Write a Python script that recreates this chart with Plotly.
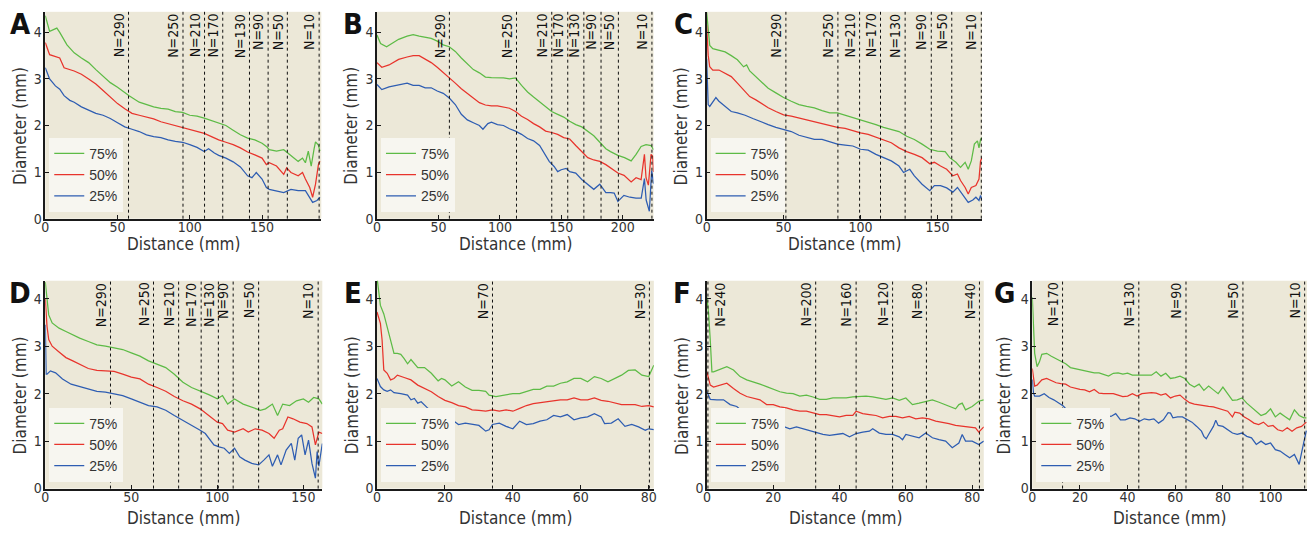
import plotly.graph_objects as go

W, H = 1316, 534

# ---------------- data ----------------
A_75_x = [0,3,8,10,15,20,25,30,35,40,45,50,55,58,65,70,75,80,85,90,95,100,105,110,115,120,125,130,135,140,145,150,153,155,160,165,168,172,175,178,180,182,184,186,187,189,190]
A_75_y = [4.36,4.02,4.09,4.0,3.73,3.56,3.45,3.35,3.2,3.07,2.92,2.82,2.7,2.64,2.5,2.45,2.4,2.37,2.35,2.3,2.28,2.22,2.2,2.16,2.11,2.06,2.0,1.9,1.8,1.73,1.69,1.62,1.55,1.48,1.45,1.48,1.41,1.3,1.23,1.3,1.2,1.45,1.13,1.5,1.65,1.58,1.45]
A_50_x = [0,3,10,13,20,25,30,35,40,45,50,55,60,65,70,75,80,85,90,95,100,105,110,115,120,125,130,135,140,145,150,153,155,160,165,167,170,175,178,180,183,185,187,189,190]
A_50_y = [3.78,3.52,3.45,3.24,3.17,3.1,3.0,2.89,2.75,2.61,2.47,2.36,2.26,2.22,2.18,2.14,2.08,2.04,1.99,1.95,1.92,1.88,1.83,1.76,1.69,1.64,1.59,1.52,1.43,1.37,1.3,1.16,1.2,1.13,0.95,1.09,0.99,0.92,0.99,0.85,0.67,0.46,0.74,1.16,1.23]
A_25_x = [0,3,7,10,13,17,20,25,30,35,40,45,50,55,60,65,70,75,80,85,90,95,100,105,110,113,117,120,125,130,135,140,143,146,150,153,155,160,165,170,175,180,183,185,188,190]
A_25_y = [3.24,3.0,2.85,2.78,2.64,2.54,2.5,2.4,2.33,2.26,2.22,2.15,2.06,1.97,1.92,1.87,1.8,1.76,1.74,1.69,1.66,1.64,1.59,1.53,1.44,1.5,1.41,1.36,1.3,1.22,1.11,0.92,0.88,0.99,0.85,0.67,0.63,0.6,0.56,0.63,0.6,0.6,0.46,0.35,0.39,0.46]
A_N_pos = [57.6,95.3,110.2,122.8,141.3,154.2,167.5,189.5]
A_N_lab = ["N=290","N=250","N=210","N=170","N=130","N=90","N=50","N=10"]

B_75_x = [0,2.9,7.8,11.8,17.6,24.5,29.4,34.3,39.2,44.1,49,53.9,58.8,63.7,68.6,73.5,78.4,83.3,88.2,93.1,98,102.9,107.8,112.7,117.6,122.5,127.4,132.3,137.2,142.1,147,151.9,156.8,161.7,166.6,171.5,176.4,181.3,186.2,190,196,201.4,206.8,210.8,214.9,218.9,223,225]
B_75_y = [3.94,3.76,3.69,3.76,3.85,3.92,3.95,3.92,3.9,3.87,3.81,3.73,3.69,3.59,3.45,3.32,3.2,3.13,3.04,3.03,3.03,3.02,3.0,3.02,2.86,2.72,2.61,2.51,2.4,2.3,2.24,2.18,2.09,2.02,1.97,1.88,1.78,1.64,1.5,1.44,1.36,1.31,1.24,1.38,1.55,1.59,1.57,1.48]
B_50_x = [0,3.9,9.8,17.6,24.5,29.4,34.3,39.2,44.1,49,53.9,58.8,63.7,68.6,73.5,78.4,83.3,88.2,93.1,98,102.9,107.8,112.7,117.6,122.5,127.4,132.3,137.2,142.1,147,151.9,156.8,161.7,166.6,171.5,176.4,181.3,186.2,191.1,196,201,206.8,210.8,214.9,217.6,218.9,220.8,223,224.3,225]
B_50_y = [3.35,3.25,3.3,3.42,3.47,3.5,3.5,3.42,3.35,3.25,3.14,3.04,2.91,2.79,2.69,2.58,2.49,2.44,2.42,2.42,2.39,2.37,2.3,2.2,2.13,2.04,1.97,1.88,1.85,1.81,1.74,1.71,1.57,1.43,1.31,1.26,1.23,1.16,1.06,0.98,0.93,0.79,0.88,0.84,1.38,0.88,0.72,1.38,1.34,1.0]
B_25_x = [0,3.9,9.8,17.6,24.5,29.4,34.3,39.2,44.1,49,53.9,58.8,63.7,68.6,73.5,78.4,83.3,86.2,90.2,93.1,98,102.9,107.8,112.7,117.6,122.5,127.4,132.3,137.2,140.1,144.1,147,149.9,153.9,156.8,161.7,166.6,171.5,176.4,181.3,186.2,190.1,193,196,200.9,205.8,210.7,215,217.6,219,221.6,223.5,225]
B_25_y = [2.88,2.77,2.83,2.88,2.91,2.86,2.86,2.81,2.81,2.74,2.69,2.59,2.45,2.24,2.12,2.06,2.0,1.92,2.04,2.07,2.02,2.0,1.93,1.88,1.81,1.72,1.67,1.57,1.36,1.23,1.12,1.01,1.05,1.08,1.01,0.98,0.84,0.74,0.63,0.74,0.56,0.56,0.55,0.37,0.5,0.46,0.44,0.44,0.86,0.4,0.16,1.03,0.75]
B_N_pos = [58.9,113.5,142.2,155.2,168.3,182.3,196.4,223.7]
B_N_lab = ["N=290","N=250","N=210","N=170","N=130","N=90","N=50","N=10"]

C_75_x = [0,1,2,4,8,12,16,20,24,26,28,32,36,40,45,50,55,60,65,70,75,80,85,90,95,100,105,110,115,120,125,130,135,140,145,150,155,158,162,165,168,170,172,174,176,177,178,179]
C_75_y = [4.43,4.0,3.72,3.65,3.62,3.58,3.5,3.41,3.26,3.3,3.17,3.05,2.91,2.8,2.7,2.6,2.52,2.45,2.41,2.38,2.32,2.27,2.27,2.22,2.18,2.13,2.08,2.02,1.96,1.91,1.87,1.77,1.7,1.6,1.49,1.45,1.44,1.31,1.21,1.1,1.21,1.06,1.24,1.6,1.67,1.52,1.7,1.74]
C_50_x = [0,1,2,4,8,12,16,20,24,28,32,36,40,45,50,55,60,65,70,75,80,85,90,95,100,105,110,115,120,125,130,135,140,145,148,152,156,160,163,165,168,170,172,175,177,178,179]
C_50_y = [4.15,3.51,3.26,3.19,3.19,3.12,3.05,2.91,2.77,2.62,2.55,2.46,2.38,2.3,2.23,2.2,2.16,2.13,2.08,2.04,2.0,1.96,1.94,1.89,1.84,1.81,1.75,1.7,1.63,1.52,1.44,1.38,1.31,1.18,1.21,1.13,1.06,0.92,0.96,0.82,0.67,0.53,0.67,0.71,0.85,1.24,1.31]
C_25_x = [0,0.5,1,2,4,6,8,12,16,20,25,30,35,40,45,50,55,60,65,70,75,80,85,90,95,100,105,110,115,120,125,128,132,135,140,145,148,152,156,160,163,166,170,173,175,177,178,179]
C_25_y = [3.44,2.59,2.45,2.41,2.52,2.6,2.52,2.41,2.3,2.27,2.22,2.15,2.08,2.02,1.96,1.91,1.87,1.79,1.75,1.7,1.7,1.65,1.6,1.58,1.56,1.49,1.47,1.38,1.31,1.24,1.13,0.99,1.06,0.92,0.74,0.6,0.71,0.71,0.66,0.57,0.67,0.53,0.35,0.4,0.46,0.39,0.5,0.39]
C_N_pos = [51.5,85.3,99.4,113,129,146,159.3,178.5]
C_N_lab = ["N=290","N=250","N=210","N=170","N=130","N=90","N=50","N=10"]

D_75_x = [0,1,2,4,8,12,16,20,25,30,35,40,45,50,55,60,65,70,75,80,85,90,95,100,103,106,110,115,120,125,128,132,135,138,142,146,150,153,156,159,161]
D_75_y = [4.35,3.94,3.66,3.49,3.38,3.31,3.24,3.17,3.1,3.03,3.0,2.97,2.93,2.86,2.79,2.69,2.62,2.55,2.41,2.24,2.13,2.06,1.98,1.89,1.96,1.78,1.89,1.78,1.72,1.65,1.68,1.78,1.54,1.78,1.75,1.85,1.89,1.82,1.92,1.89,1.78]
D_50_x = [0,1,2,4,8,12,16,20,25,30,35,40,45,50,55,60,65,70,75,80,85,90,95,100,103,106,110,115,118,122,126,130,133,136,138,141,144,148,152,155,157,159,161]
D_50_y = [4.0,3.42,3.14,3.0,2.88,2.76,2.69,2.62,2.53,2.49,2.48,2.47,2.41,2.35,2.31,2.2,2.13,2.05,1.94,1.85,1.78,1.68,1.54,1.4,1.37,1.23,1.19,1.26,1.19,1.26,1.23,1.16,1.06,1.23,1.26,1.51,1.47,1.4,1.37,1.3,0.92,1.19,1.16]
D_25_x = [0,0.5,1,3,6,10,15,20,25,30,35,40,45,50,55,60,65,70,75,80,85,90,93,96,98,101,104,107,110,113,116,120,124,127,130,132,135,137,140,143,145,147,149,151,153,155,157,158,159,161]
D_25_y = [3.45,2.41,2.41,2.48,2.44,2.31,2.2,2.15,2.1,2.05,2.03,1.99,1.96,1.89,1.82,1.75,1.72,1.65,1.54,1.44,1.33,1.23,1.16,1.02,0.92,0.88,0.85,0.74,0.85,0.67,0.6,0.53,0.5,0.6,0.71,0.47,0.71,0.5,0.81,0.95,0.6,1.06,1.13,0.71,1.02,0.53,0.22,0.78,0.47,0.95]
D_N_pos = [37.9,62.9,77.5,90.6,100.6,109.2,124,158.6]
D_N_lab = ["N=290","N=250","N=210","N=170","N=130","N=90","N=50","N=10"]

E_75_x = [0,0.5,1,2,3,4,5,6,7,8,9,10,11,12,14,16,18,19,20,22,24,26,28,30,32,33,35,37,40,42,44,46,48,50,52,54,56,58,60,62,64,66,68,70,72,74,76,78,80,81.5]
E_75_y = [4.45,4.17,3.86,3.68,3.41,3.16,2.85,2.85,2.83,2.74,2.63,2.72,2.63,2.55,2.55,2.43,2.27,2.32,2.29,2.16,2.25,2.14,2.07,2.07,2.05,1.97,1.94,1.97,2.0,2.0,2.05,2.09,2.09,2.16,2.16,2.22,2.25,2.32,2.32,2.25,2.36,2.32,2.25,2.32,2.39,2.49,2.5,2.39,2.36,2.6]
E_50_x = [0,1,1.5,2,3,4,5,6,8,10,12,14,16,18,20,22,24,26,28,30,32,34,36,38,40,42,44,46,48,50,52,54,56,58,60,62,64,66,68,70,72,74,76,78,80,81.5]
E_50_y = [3.72,3.48,3.13,2.5,2.43,2.29,2.32,2.39,2.34,2.29,2.18,2.11,2.04,1.94,1.86,1.81,1.75,1.72,1.66,1.65,1.63,1.66,1.63,1.66,1.63,1.69,1.75,1.79,1.81,1.84,1.86,1.87,1.87,1.91,1.87,1.87,1.91,1.86,1.84,1.8,1.77,1.77,1.77,1.73,1.75,1.72]
E_25_x = [0,1,2,3,4,5,7,9,10,11,12,13,15,17,20,22,24,26,28,30,32,33,34,36,38,40,42,44,46,48,50,52,54,56,58,60,62,64,66,67,69,71,73,75,77,79,80,81.5]
E_25_y = [2.32,2.15,2.08,2.05,2.08,2.02,2.0,1.97,1.87,1.9,1.8,1.83,1.69,1.59,1.56,1.45,1.35,1.38,1.35,1.33,1.21,1.24,1.35,1.38,1.31,1.26,1.42,1.35,1.37,1.42,1.45,1.54,1.51,1.56,1.45,1.49,1.51,1.58,1.51,1.37,1.38,1.47,1.31,1.35,1.3,1.23,1.26,1.24]
E_N_pos = [34,80.2]
E_N_lab = ["N=70","N=30"]

F_75_x = [0,0.5,1,1.5,2,4,6,8,10,12,14,16,18,20,22,24,26,28,30,32,34,36,38,40,42,44,46,48,50,52,54,56,58,60,62,64,66,68,70,72,74,75,76,77,78,80,82,83.5]
F_75_y = [4.03,3.69,3.13,2.46,2.46,2.51,2.57,2.5,2.36,2.29,2.25,2.2,2.15,2.09,2.04,2.01,2.0,1.95,1.97,1.93,1.88,1.88,1.91,1.91,1.91,1.93,1.94,1.95,1.93,1.91,1.88,1.91,1.86,1.91,1.77,1.8,1.84,1.87,1.82,1.77,1.72,1.68,1.77,1.8,1.66,1.73,1.84,1.87]
F_50_x = [0,1,2,4,6,8,10,12,14,16,18,20,22,24,26,28,30,32,34,36,38,40,42,44,45,47,49,51,53,55,57,59,61,63,65,67,69,71,73,75,77,79,81,82,83.5]
F_50_y = [2.46,2.18,2.14,2.18,2.22,2.11,2.01,1.94,1.91,1.87,1.77,1.77,1.72,1.7,1.66,1.63,1.63,1.59,1.56,1.56,1.54,1.51,1.54,1.54,1.63,1.58,1.56,1.54,1.49,1.52,1.52,1.49,1.52,1.47,1.49,1.47,1.42,1.4,1.37,1.33,1.31,1.3,1.28,1.19,1.3]
F_25_x = [0,1,3,5,7,9,11,13,15,17,19,21,23,25,27,29,31,33,35,37,39,41,43,45,47,49,50,52,54,56,58,59,60,62,64,66,68,70,72,74,76,77,78,80,82,83.5]
F_25_y = [2.04,1.88,1.87,1.87,1.77,1.73,1.61,1.56,1.51,1.47,1.38,1.33,1.31,1.26,1.3,1.26,1.21,1.17,1.14,1.12,1.14,1.16,1.09,1.16,1.19,1.21,1.26,1.17,1.14,1.14,1.09,1.03,1.14,1.1,1.07,1.17,1.07,1.03,1.0,0.86,0.96,1.14,1.0,1.0,0.93,1.0]
F_N_pos = [0.3,32.8,45,56,66.2,82.2]
F_N_lab = ["N=240","N=200","N=160","N=120","N=80","N=40"]

G_75_x = [0,0.5,1,2,3,4,6,8,10,12,14,16,18,20,22,24,26,28,30,32,34,36,38,40,42,44,46,48,50,52,54,56,58,60,62,64,66,68,70,72,74,76,78,80,82,84,86,88,90,92,94,96,98,100,102,104,106,108,110,112,114,115]
G_75_y = [4.03,3.51,2.85,2.57,2.67,2.83,2.85,2.79,2.74,2.69,2.63,2.55,2.53,2.51,2.48,2.46,2.44,2.44,2.41,2.37,2.43,2.44,2.41,2.43,2.39,2.39,2.39,2.39,2.39,2.46,2.37,2.43,2.32,2.34,2.37,2.32,2.2,2.14,2.2,2.07,2.16,2.08,2.0,2.14,2.01,1.86,1.87,1.91,1.8,1.72,1.63,1.54,1.58,1.68,1.51,1.59,1.52,1.45,1.66,1.54,1.49,1.49]
G_50_x = [0,0.5,1,2,4,6,8,10,12,14,16,18,20,22,24,26,28,30,32,34,36,38,40,42,44,46,48,50,52,54,56,58,60,62,64,66,68,70,72,74,76,78,80,82,84,85,87,89,91,93,95,97,99,101,103,105,107,109,111,113,115]
G_50_y = [2.53,2.32,2.16,2.18,2.29,2.32,2.27,2.23,2.21,2.2,2.14,2.11,2.09,2.08,2.04,2.09,2.01,2.0,2.0,2.0,1.97,1.94,1.95,2.0,1.95,2.0,2.01,2.02,2.01,1.97,2.0,1.91,1.95,1.97,1.88,1.81,1.78,1.76,1.74,1.73,1.72,1.69,1.66,1.63,1.51,1.61,1.59,1.51,1.45,1.38,1.35,1.4,1.31,1.33,1.24,1.21,1.28,1.21,1.28,1.31,1.4]
G_25_x = [0,0.5,1,3,5,7,9,11,13,15,17,19,21,23,25,27,29,31,33,35,37,39,41,43,45,47,49,51,53,55,57,58,59,61,63,65,67,69,71,72,73,74,76,77,78,80,82,84,86,88,90,92,94,96,98,100,102,104,106,108,110,111,112,113,114,115]
G_25_y = [2.3,2.01,1.95,1.95,2.0,1.92,1.87,1.81,1.74,1.63,1.6,1.59,1.56,1.54,1.54,1.56,1.51,1.54,1.52,1.58,1.45,1.45,1.49,1.47,1.42,1.47,1.45,1.47,1.38,1.45,1.6,1.59,1.49,1.51,1.51,1.45,1.4,1.31,1.21,1.1,1.05,1.14,1.31,1.44,1.33,1.31,1.24,1.17,1.14,1.17,1.1,1.07,0.93,1.0,0.93,0.96,0.82,0.79,0.72,0.65,0.72,0.6,0.51,0.75,1.0,1.22]
G_N_pos = [12.7,44.7,64.5,88.4,114.3]
G_N_lab = ["N=170","N=130","N=90","N=50","N=10"]

SERIES_NAMES = ["75%", "50%", "25%"]
PANEL_LETTERS = ["A", "B", "C", "D", "E", "F", "G"]

# ---------------- styling / layout ----------------
COLORS = ["#5DBB46", "#E8342C", "#2E5DB2"]
BG = "#ECE8D8"
COND = "DejaVu Sans Condensed, DejaVu Sans, sans-serif"
REG = "Liberation Sans, Arial, sans-serif"

panels = [
    dict(x=(A_75_x, A_50_x, A_25_x), y=(A_75_y, A_50_y, A_25_y), np=A_N_pos, nl=A_N_lab,
         xmax=191, ymax=4.44, dt=50, px=(41.5, 319), py=(12, 222), let=(17, 24)),
    dict(x=(B_75_x, B_50_x, B_25_x), y=(B_75_y, B_50_y, B_25_y), np=B_N_pos, nl=B_N_lab,
         xmax=225, ymax=4.44, dt=50, px=(375, 653), py=(12, 222), let=(351, 24)),
    dict(x=(C_75_x, C_50_x, C_25_x), y=(C_75_y, C_50_y, C_25_y), np=C_N_pos, nl=C_N_lab,
         xmax=179, ymax=4.44, dt=50, px=(706.4, 983.3), py=(12, 222), let=(683.5, 24)),
    dict(x=(D_75_x, D_50_x, D_25_x), y=(D_75_y, D_50_y, D_25_y), np=D_N_pos, nl=D_N_lab,
         xmax=161, ymax=4.38, dt=50, px=(41.5, 320), py=(285, 496), let=(16.5, 297.5)),
    dict(x=(E_75_x, E_50_x, E_25_x), y=(E_75_y, E_50_y, E_25_y), np=E_N_pos, nl=E_N_lab,
         xmax=81.5, ymax=4.38, dt=20, px=(375, 653.3), py=(285, 496), let=(350.5, 297.5)),
    dict(x=(F_75_x, F_50_x, F_25_x), y=(F_75_y, F_50_y, F_25_y), np=F_N_pos, nl=F_N_lab,
         xmax=83.5, ymax=4.38, dt=20, px=(706.7, 985), py=(285, 496), let=(681.5, 297.5)),
    dict(x=(G_75_x, G_50_x, G_25_x), y=(G_75_y, G_50_y, G_25_y), np=G_N_pos, nl=G_N_lab,
         xmax=115.3, ymax=4.38, dt=20, px=(1033.8, 1310), py=(285, 496), let=(1005.5, 297.5)),
]

fig = go.Figure()
layout = dict(width=W, height=H, margin=dict(l=0, r=0, t=0, b=0),
              paper_bgcolor="white", plot_bgcolor=BG, showlegend=True)
annotations = []
shapes = []

for i, p in enumerate(panels):
    s = "" if i == 0 else str(i + 1)
    xa, ya = "x" + s, "y" + s
    leg = "legend" + s
    for k in range(3):
        fig.add_trace(go.Scatter(x=p["x"][k], y=p["y"][k], mode="lines", name=SERIES_NAMES[k],
                                 line=dict(color=COLORS[k], width=1.25), xaxis=xa, yaxis=ya,
                                 legend=leg, hoverinfo="skip"))
    x0, x1 = p["px"]
    y0, y1 = p["py"]
    axis_common = dict(showgrid=False, zeroline=False, showline=True, linecolor="#1a1a1a",
                       linewidth=1.5, ticks="inside", ticklen=4, tickcolor="#1a1a1a",
                       tickwidth=1, tickfont=dict(family=COND, size=14, color="#333"))
    layout["xaxis" + s] = dict(domain=[x0 / W, x1 / W], anchor=ya, range=[0, p["xmax"]],
                               tick0=0, dtick=p["dt"], ticklabelstandoff=-5, **axis_common)
    layout["yaxis" + s] = dict(domain=[(H - y1) / H, (H - y0) / H], anchor=xa,
                               range=[0, p["ymax"]], tick0=0, dtick=1, ticklabelstandoff=-1,
                               **axis_common)
    layout[leg] = dict(x=(x0 + 4) / W, y=(H - y1 + 7) / H, xanchor="left", yanchor="bottom",
                       bgcolor="#F7F6F0", borderwidth=0, itemwidth=30,
                       font=dict(family=REG, size=14, color="#333"))
    # N= reference lines and labels
    for pos, lab in zip(p["np"], p["nl"]):
        shapes.append(dict(type="line", xref=xa, yref=ya + " domain", x0=pos, x1=pos, y0=0, y1=1,
                           line=dict(color="#111", width=1, dash="dot")))
        annotations.append(dict(text=lab, xref=xa, yref=ya + " domain", x=pos, y=1,
                                xanchor="left" if pos < 2 else "right", yanchor="top",
                                textangle=-90, showarrow=False, xshift=2 if pos < 2 else 0,
                                font=dict(family=COND, size=14, color="#111")))
    # axis titles
    row2 = i >= 3
    annotations.append(dict(text="Distance (mm)", xref=xa + " domain", yref=ya + " domain",
                            x=0.5, y=0, yanchor="middle", xanchor="center", showarrow=False,
                            yshift=-(29 if row2 else 25),
                            font=dict(family=COND, size=17, color="#333")))
    annotations.append(dict(text="Diameter (mm)", xref=xa + " domain", yref=ya + " domain",
                            x=0, y=0.5, xanchor="center", yanchor="middle", textangle=-90,
                            showarrow=False, xshift=-(28.5 if i == 6 else 25.5), yshift=-11,
                            font=dict(family=COND, size=17, color="#333")))
    # panel letter
    lx, ly = p["let"]
    annotations.append(dict(text="<b>" + PANEL_LETTERS[i] + "</b>", xref="paper", yref="paper",
                            x=lx / W, y=(H - ly) / H, xanchor="center", yanchor="middle",
                            showarrow=False, font=dict(family=COND, size=29, color="#111")))

layout["annotations"] = annotations
layout["shapes"] = shapes
fig.update_layout(**layout)
fig.write_html("out.html", config={"displayModeBar": False},
               post_script="document.body.style.margin='0px';document.body.style.overflow='hidden';")
